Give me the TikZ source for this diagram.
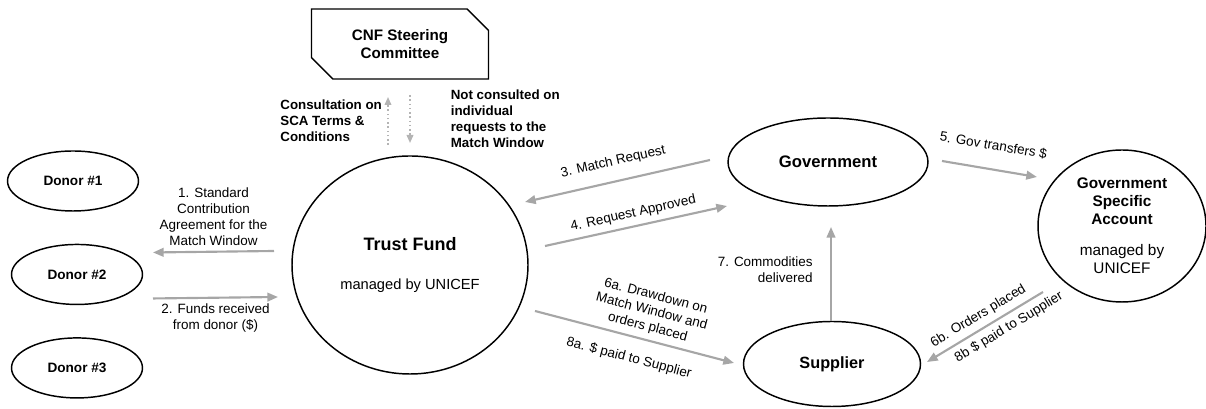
\documentclass[tikz,border=0pt]{standalone}
\usepackage{fontspec}
\setmainfont{Liberation Sans}
\usetikzlibrary{shapes.geometric,shapes.misc,arrows.meta,positioning}
\definecolor{flowgray}{HTML}{A6A6A6}
\definecolor{dotgray}{HTML}{B4B4B4}
\tikzstyle{actor} = [ellipse, draw=black, line width=1.1pt, inner sep=0pt, align=center]
\tikzstyle{donor} = [actor, minimum width=98.25pt, minimum height=45pt, font=\bfseries\fontsize{10.2}{12}\selectfont]
\tikzstyle{board} = [chamfered rectangle, chamfered rectangle corners={north east,south west}, chamfered rectangle sep=8pt, draw=black, line width=1.1pt, align=center, minimum width=132.75pt, minimum height=52.5pt, inner sep=0pt, font=\bfseries\fontsize{11.4}{13.5}\selectfont]
\tikzstyle{flow} = [color=flowgray, line width=1.6pt]
\tikzstyle{consult} = [color=dotgray, line width=1.2pt, dotted, >={Triangle[length=6pt,width=5pt]}]
\tikzstyle{lbl} = [font=\fontsize{10.1}{12}\selectfont, align=center, inner sep=1pt, text=black]
\tikzstyle{note} = [font=\bfseries\fontsize{10}{12}\selectfont, align=left, inner sep=1pt, text=black]

\begin{document}
\begin{tikzpicture}[x=0.75pt,y=0.75pt,->,>={Triangle[length=8pt,width=6.5pt]},node distance=24pt]
  \useasboundingbox (0,0) rectangle (1206,409);
  \node[board] (cnf) at (400,365) {CNF Steering\\Committee};
  \node[actor, minimum width=177pt, minimum height=163.5pt, font=\fontsize{11}{13}\selectfont] (tf) at (410,144) {{\bfseries\fontsize{13.5}{16}\selectfont Trust Fund}\\[16pt]managed by UNICEF};
  \node[actor, minimum width=150pt, minimum height=66pt, font=\bfseries\fontsize{12.5}{15}\selectfont] (gov) at (828,247) {Government};
  \node[actor, minimum width=126pt, minimum height=114pt, font=\fontsize{11.5}{13.5}\selectfont] (gsa) at (1122,183) {\textbf{Government}\\\textbf{Specific}\\\textbf{Account}\\[10pt]managed by\\UNICEF};
  \node[actor, minimum width=132.75pt, minimum height=63.75pt, font=\bfseries\fontsize{12.2}{15}\selectfont] (sup) at (832,45) {Supplier};
  \node[donor] (d1) at (73,228) {Donor \#1};
  \node[donor] (d2) [below=of d1, xshift=3pt] {Donor \#2};
  \node[donor] (d3) [below=of d2] {Donor \#3};

  \path ([shift={(-22,120)}]tf.center) edge[consult] node[note, left=3pt] {Consultation on\\SCA Terms \&\\Conditions} ([shift={(-12,-53)}]cnf.center);
  \path ([shift={(10,-51)}]cnf.center) edge[consult] node[note, right=29pt] {Not consulted on\\individual\\requests to the\\Match Window} ([shift={(0,122)}]tf.center);
  \path ([shift={(-136,14)}]tf.center) edge[flow] node[lbl, above=3pt] {1. Standard\\Contribution\\Agreement for the\\Match Window} ([shift={(76,22)}]d2.center);
  \path ([shift={(76,-24)}]d2.center) edge[flow] node[lbl, below=3pt] {2. Funds received\\from donor (\$)} ([shift={(-132,-32)}]tf.center);
  \path ([shift={(-118,2)}]gov.center) edge[flow] node[lbl, sloped, above=8pt] {3. Match Request} ([shift={(115,63)}]tf.center);
  \path ([shift={(135,19)}]tf.center) edge[flow] node[lbl, sloped, above=3pt] {4. Request Approved} ([shift={(-101,-44)}]gov.center);
  \path ([shift={(114,1)}]gov.center) edge[flow] node[lbl, sloped, above=12pt] {5. Gov transfers \$} ([shift={(-85,49)}]gsa.center);
  \path ([shift={(125,-46)}]tf.center) edge[flow] node[lbl, sloped, above=3pt, pos=.55] {6a. Drawdown on\\Match Window and\\orders placed} node[lbl, sloped, below=10pt, pos=.5] {8a. \$ paid to Supplier} ([shift={(-98,1)}]sup.center);
  \path ([shift={(-1,43)}]sup.center) edge[flow] node[lbl, align=right, left=12pt, pos=.55] {7. Commodities\\delivered} ([shift={(3,-65)}]gov.center);
  \path ([shift={(-79,-66)}]gsa.center) edge[flow] node[lbl, sloped, above=3pt] {6b. Orders placed} node[lbl, sloped, below=3pt, pos=.35] {8b \$ paid to Supplier} ([shift={(95,2)}]sup.center);
\end{tikzpicture}
\end{document}
